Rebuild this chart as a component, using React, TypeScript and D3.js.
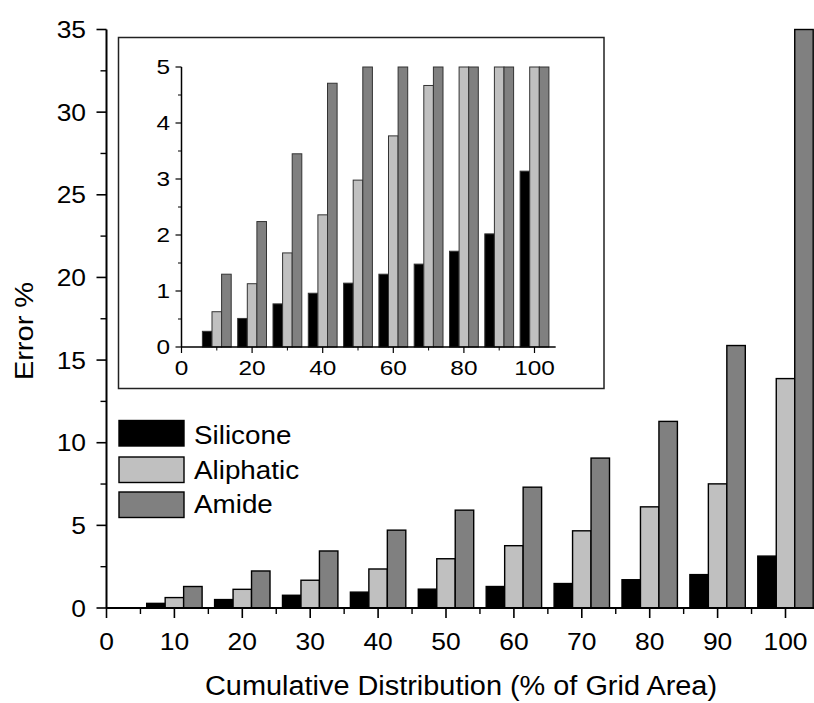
import * as d3 from "d3";

const categories = [10, 20, 30, 40, 50, 60, 70, 80, 90, 100];
const seriesNames = ["Silicone", "Aliphatic", "Amide"];
const silicone = [0.28, 0.51, 0.77, 0.96, 1.14, 1.3, 1.48, 1.71, 2.02, 3.14];
const aliphatic = [0.63, 1.13, 1.68, 2.36, 2.98, 3.77, 4.67, 6.12, 7.51, 13.88];
const amide = [1.3, 2.24, 3.45, 4.71, 5.92, 7.31, 9.07, 11.29, 15.88, 35.0];
const colors = ["#000000", "#c0c0c0", "#808080"];

const mainYTicks = [0, 5, 10, 15, 20, 25, 30, 35];
const mainXTicks = [0, 10, 20, 30, 40, 50, 60, 70, 80, 90, 100];
const insetYTicks = [0, 1, 2, 3, 4, 5];
const insetXTicks = [0, 20, 40, 60, 80, 100];

const font = "'Liberation Sans', Arial, sans-serif";

// text stretched a little along its direction, like the original figure
function Label({ x, y, sx = 1, size, anchor = "start", rotate = 0, children }: any) {
  return (
    <text
      transform={`translate(${x},${y}) rotate(${rotate}) scale(${sx},1)`}
      textAnchor={anchor}
      fontSize={size}
    >
      {children}
    </text>
  );
}

export default function App() {
  const width = 814;
  const height = 703;
  const series = [silicone, aliphatic, amide];
  const bw = 2.72; // bar width in x units

  // main chart
  const x = d3.scaleLinear().domain([0, 105]).range([106.5, 106.5 + 105 * 6.79]);
  const y = d3.scaleLinear().domain([0, 35]).range([608, 29.5]);

  // inset chart
  const xi = d3.scaleLinear().domain([0, 106]).range([181.5, 181.5 + 106 * 3.53]);
  const yi = d3.scaleLinear().domain([0, 5]).range([347, 67]);

  const mainYMinor = d3.range(2.5, 35, 5);
  const mainXMinor = d3.range(5, 105, 10);
  const insetYMinor = d3.range(0.5, 5, 1);
  const insetXMinor = d3.range(10, 106, 20);

  return (
    <svg
      width={width}
      height={height}
      style={{ position: "absolute", left: 0, top: 0, background: "#fff" }}
      fontFamily={font}
    >
      <rect width={width} height={height} fill="#fff" />

      {/* main bars */}
      {categories.map((c, ci) =>
        series.map((s, si) => {
          const x0 = x(c - 1.5 * bw + si * bw);
          const x1 = x(c - 1.5 * bw + (si + 1) * bw);
          return (
            <rect
              key={`m${ci}-${si}`}
              x={x0}
              y={y(s[ci])}
              width={x1 - x0}
              height={y(0) - y(s[ci])}
              fill={colors[si]}
              stroke="#000"
              strokeWidth={1.4}
            />
          );
        })
      )}

      {/* main axes */}
      <line x1={x(0)} x2={x(105)} y1={y(0)} y2={y(0)} stroke="#000" strokeWidth={2} />
      <line x1={x(0)} x2={x(0)} y1={y(0)} y2={y(35)} stroke="#000" strokeWidth={2} />
      {mainYTicks.map((t) => (
        <g key={`my${t}`}>
          <line x1={x(0) - 10} x2={x(0)} y1={y(t)} y2={y(t)} stroke="#000" strokeWidth={1.6} />
          <Label x={86} y={y(t) + 8.6} sx={1.1} size={24} anchor="end">
            {t}
          </Label>
        </g>
      ))}
      {mainYMinor.map((t) => (
        <line key={`mym${t}`} x1={x(0) - 6} x2={x(0)} y1={y(t)} y2={y(t)} stroke="#000" strokeWidth={1.4} />
      ))}
      {mainXTicks.map((t) => (
        <g key={`mx${t}`}>
          <line x1={x(t)} x2={x(t)} y1={y(0)} y2={y(0) + 10} stroke="#000" strokeWidth={1.6} />
          <Label x={x(t)} y={650} sx={1.1} size={24} anchor="middle">
            {t}
          </Label>
        </g>
      ))}
      {mainXMinor.map((t) => (
        <line key={`mxm${t}`} x1={x(t)} x2={x(t)} y1={y(0)} y2={y(0) + 6} stroke="#000" strokeWidth={1.4} />
      ))}
      <Label x={461} y={695} sx={1.07} size={27} anchor="middle">
        Cumulative Distribution (% of Grid Area)
      </Label>
      <Label x={33} y={331} sx={1.16} size={25} anchor="middle" rotate={-90}>
        Error %
      </Label>

      {/* legend */}
      {seriesNames.map((n, i) => {
        const top = [420.5, 457, 492][i];
        const base = [443.5, 479, 513][i];
        return (
          <g key={n}>
            <rect x={119} y={top} width={65} height={25.5} fill={colors[i]} stroke="#000" strokeWidth={1.4} />
            <Label x={194} y={base} sx={1.07} size={26}>
              {n}
            </Label>
          </g>
        );
      })}

      {/* inset */}
      <rect x={118.5} y={37.5} width={485.5} height={351} fill="#fff" stroke="#222" strokeWidth={1.5} />
      {categories.map((c, ci) =>
        series.map((s, si) => {
          const x0 = xi(c - 1.5 * bw + si * bw);
          const x1 = xi(c - 1.5 * bw + (si + 1) * bw);
          const v = Math.min(s[ci], 5);
          return (
            <rect
              key={`i${ci}-${si}`}
              x={x0}
              y={yi(v)}
              width={x1 - x0}
              height={yi(0) - yi(v)}
              fill={colors[si]}
              stroke="#333"
              strokeWidth={1}
            />
          );
        })
      )}
      <line x1={xi(0)} x2={xi(106)} y1={yi(0)} y2={yi(0)} stroke="#000" strokeWidth={1.5} />
      <line x1={xi(0)} x2={xi(0)} y1={yi(0)} y2={yi(5)} stroke="#000" strokeWidth={1.5} />
      {insetYTicks.map((t) => (
        <g key={`iy${t}`}>
          <line x1={xi(0) - 6} x2={xi(0)} y1={yi(t)} y2={yi(t)} stroke="#000" strokeWidth={1.2} />
          <Label x={170} y={yi(t) + 7.2} sx={1.22} size={20} anchor="end">
            {t}
          </Label>
        </g>
      ))}
      {insetYMinor.map((t) => (
        <line key={`iym${t}`} x1={xi(0) - 3.5} x2={xi(0)} y1={yi(t)} y2={yi(t)} stroke="#000" strokeWidth={1} />
      ))}
      {insetXTicks.map((t) => (
        <g key={`ix${t}`}>
          <line x1={xi(t)} x2={xi(t)} y1={yi(0)} y2={yi(0) + 6} stroke="#000" strokeWidth={1.2} />
          <Label x={xi(t)} y={375} sx={1.22} size={20} anchor="middle">
            {t}
          </Label>
        </g>
      ))}
      {insetXMinor.map((t) => (
        <line key={`ixm${t}`} x1={xi(t)} x2={xi(t)} y1={yi(0)} y2={yi(0) + 3.5} stroke="#000" strokeWidth={1} />
      ))}
    </svg>
  );
}
